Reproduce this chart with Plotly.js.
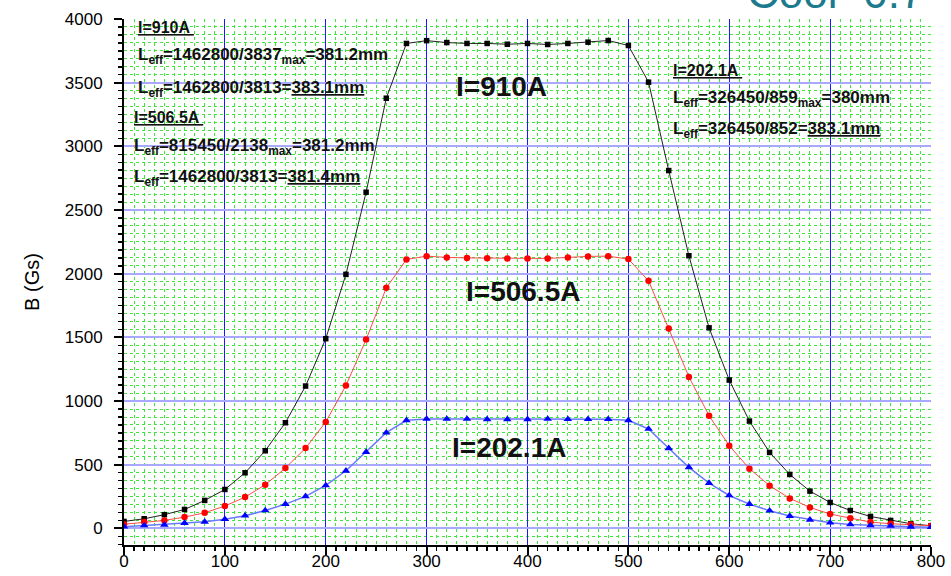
<!DOCTYPE html>
<html>
<head>
<meta charset="utf-8">
<script src="https://cdn.plot.ly/plotly-3.0.1.min.js"></script>
<style>html,body{margin:0;padding:0;background:#fff;}#chart{width:951px;height:576px;}</style>
</head>
<body>
<div id="chart"></div>
<script>
// Position along magnet (mm)
const positions = [0,20,40,60,80,100,120,140,160,180,200,220,240,260,280,300,320,340,360,380,400,420,440,460,480,500,520,540,560,580,600,620,640,660,680,700,720,740,760,780,800];
// B (Gs) for I = 910 A
const b910 = [55,76,108,149,220,306,437,610,830,1118,1490,1995,2640,3378,3808,3830,3815,3808,3808,3802,3808,3800,3808,3818,3831,3792,3504,2810,2141,1575,1165,843,597,424,293,204,141,94,63,37,21];
// B (Gs) for I = 506.5 A
const b5065 = [33,50,63,89,123,176,246,343,474,631,836,1122,1483,1889,2112,2138,2128,2124,2122,2120,2120,2120,2128,2136,2138,2115,1944,1570,1190,885,650,469,336,236,165,113,81,50,37,31,21];
// B (Gs) for I = 202.1 A
const b2021 = [14,24,29,42,52,73,100,141,191,252,338,453,600,752,849,860,860,860,857,857,857,860,858,858,858,849,781,629,480,356,259,191,139,97,68,45,31,24,20,13,10];

const seriesNames = ['I=910A','I=506.5A','I=202.1A'];
const xTickVals = [0,100,200,300,400,500,600,700,800];
const yTickVals = [0,500,1000,1500,2000,2500,3000,3500,4000];

const traces = [
  {x: positions, y: b910, name: seriesNames[0], type:'scatter', mode:'lines+markers',
   line:{color:'#222222', width:1}, marker:{symbol:'square', size:5.5, color:'#000000'}},
  {x: positions, y: b5065, name: seriesNames[1], type:'scatter', mode:'lines+markers',
   line:{color:'#ff4a4a', width:1}, marker:{symbol:'circle', size:6.5, color:'#ff0000'}},
  {x: positions, y: b2021, name: seriesNames[2], type:'scatter', mode:'lines+markers',
   line:{color:'#6a78ff', width:1.5}, marker:{symbol:'triangle-up', size:7.5, color:'#0000ff'}}
];

const small = {family:'Arial, Liberation Sans, sans-serif', size:17, color:'#111', weight:'bold'};
const head = {family:'Arial, Liberation Sans, sans-serif', size:16, color:'#111', weight:'bold'};
const big = {family:'Arial, Liberation Sans, sans-serif', size:28, color:'#111', weight:'bold'};

function px2paperX(px){ return (px-124)/807; }
function px2paperY(py){ return 1-(py-19)/526; }
function note(text, xpx, ypx, font, anchor){
  return {text:text, xref:'paper', yref:'paper', x:px2paperX(xpx), y:px2paperY(ypx),
          xanchor: anchor||'left', yanchor:'middle', showarrow:false, font:font};
}

const annotations = [
  note('<u>I=910A </u>', 136, 27, head),
  note('L<sub>eff</sub>=1462800/3837<sub>max</sub>=381.2mm', 136, 56, small),
  note('L<sub>eff</sub>=1462800/3813=<u>383.1mm</u>', 136, 89, small),
  note('<u>I=506.5A </u>', 132, 117, head),
  note('L<sub>eff</sub>=815450/2138<sub>max</sub>=381.2mm', 132, 147, small),
  note('L<sub>eff</sub>=1462800/3813=<u>381.4mm</u>', 132, 178, small),
  note('<u>I=202.1A </u>', 671, 70, head),
  note('L<sub>eff</sub>=326450/859<sub>max</sub>=380mm', 671, 99, small),
  note('L<sub>eff</sub>=326450/852=<u>383.1mm</u>', 671, 130, small),
  note(seriesNames[0], 501, 86, big, 'center'),
  note(seriesNames[1], 523, 291, big, 'center'),
  note(seriesNames[2], 509, 447, big, 'center'),
  {text:'Cool=0.7', xref:'paper', yref:'paper', x:px2paperX(926), y:px2paperY(19),
   xanchor:'right', yanchor:'bottom', showarrow:false,
   font:{family:'Arial, Liberation Sans, sans-serif', size:44, color:'#1b7b8c'}}
];

const layout = {
  width:951, height:576,
  margin:{l:124, r:20, t:19, b:31, pad:0},
  paper_bgcolor:'#ffffff', plot_bgcolor:'#ffffff',
  showlegend:false,
  font:{family:'Arial, Liberation Sans, sans-serif', color:'#000'},
  xaxis:{
    range:[0,800], tickvals:xTickVals, showgrid:true, gridcolor:'#1a1aff', gridwidth:1,
    zeroline:false, showline:true, linecolor:'#000', linewidth:2,
    ticks:'outside', ticklen:8, tickwidth:2, tickcolor:'#000',
    tickfont:{size:17, color:'#000'}, ticklabelstandoff:-8,
    minor:{dtick:10, tick0:0, ticks:'outside', ticklen:4, tickwidth:1.5, tickcolor:'#000',
           showgrid:true, gridcolor:'#3de63d', griddash:'dot', gridwidth:1}
  },
  yaxis:{
    range:[-130,4000], tickvals:yTickVals, showgrid:true, gridcolor:'#a8a8ff', gridwidth:2,
    zeroline:false, showline:true, linecolor:'#000', linewidth:2,
    ticks:'outside', ticklen:8, tickwidth:2, tickcolor:'#000',
    tickfont:{size:17, color:'#000'}, ticklabelstandoff:8,
    title:{text:'B (Gs)', font:{size:20, color:'#000'}, standoff:20},
    minor:{dtick:62.5, tick0:0, ticks:'outside', ticklen:4, tickwidth:1.5, tickcolor:'#000',
           showgrid:true, gridcolor:'#3de63d', griddash:'dot', gridwidth:1}
  },
  annotations: annotations
};

Plotly.newPlot('chart', traces, layout, {displayModeBar:false, staticPlot:true});
</script>
</body>
</html>
